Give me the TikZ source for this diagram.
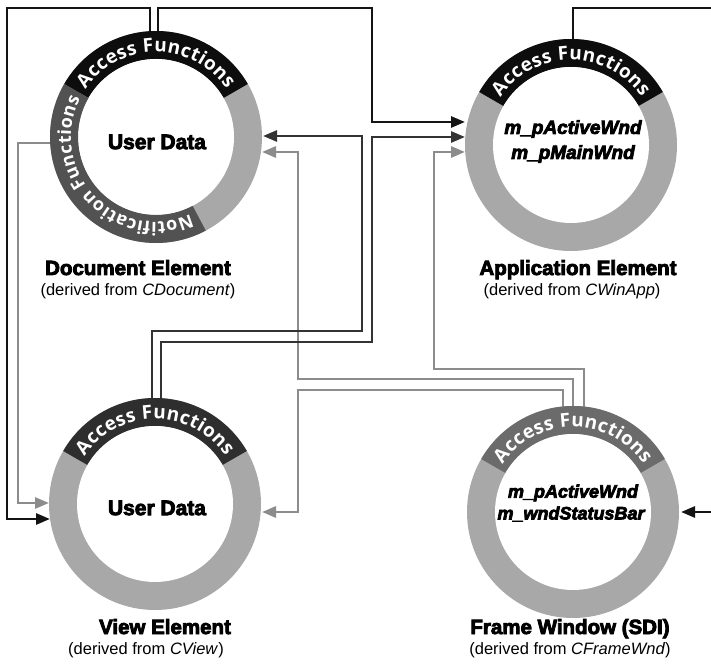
\documentclass[tikz,border=0pt]{standalone}
\usepackage{fontspec}
\setmainfont{Liberation Sans}
\newfontfamily\heavyfont{Liberation Sans Bold}[FakeBold=4]
\newfontfamily\heavyitfont{Liberation Sans Bold Italic}[FakeBold=4]
\newfontfamily\ringfont{Open Sans}
\usetikzlibrary{arrows.meta,decorations.text}

\definecolor{ringgray}{gray}{0.66}
\definecolor{notegray}{gray}{0.32}

\newcommand\accessfont{\ringfont\bfseries\fontsize{19}{19}\selectfont}
\newcommand\notefont{\ringfont\bfseries\fontsize{18}{18}\selectfont}

% ring with an "Access Functions" band across the top
\newcommand\ElementRing[2]{%
  \fill[ringgray] (#1.center) circle[radius=106];
  \fill[#2] ([shift={(150:106)}]#1.center) arc[start angle=150,end angle=30,radius=106]
     -- ([shift={(30:78)}]#1.center) arc[start angle=30,end angle=150,radius=78] -- cycle;
  \fill[white] (#1.center) circle[radius=78];
  \path[decorate,decoration={text along path,text align=fit to path,
        text={|\color{white}\accessfont|Access Functions}}]
     ([shift={(146:85)}]#1.center) arc[start angle=146,end angle=34,radius=85];
}

\begin{document}
\begin{tikzpicture}[x=1pt,y=1pt,
  ringbase/.style={circle,minimum size=212pt,inner sep=0pt},
  conn/.style={line width=2.7pt},
  blackline/.style={conn,draw=black!92},
  darkline/.style={conn,draw=black!80},
  grayline/.style={conn,draw=black!45},
  tip/.style={-{Triangle[length=14pt,width=11pt]}},
  title/.style={font=\heavyfont\fontsize{20.5}{22}\selectfont,anchor=base},
  subtitle/.style={font=\fontsize{16.5}{18}\selectfont,anchor=base},
  innertext/.style={font=\heavyfont\fontsize{21}{22}\selectfont},
  member/.style={font=\heavyitfont\fontsize{19}{20}\selectfont},
  smallmember/.style={font=\heavyitfont\fontsize{18}{19}\selectfont},
]
\useasboundingbox (0,0) rectangle (711,666);
\fill[white] (0,0) rectangle (711,666);

% element rings
\node[ringbase] (doc)   at (156,529) {};
\node[ringbase] (app)   at (571,521) {};
\node[ringbase] (view)  at (155,162) {};
\node[ringbase] (frame) at (573,154) {};

% connector start points (inside the rings)
\coordinate (s1) at (150,529);
\coordinate (s2) at (158,529);
\coordinate (s3) at (573,521);
\coordinate (s4) at (152,162);
\coordinate (s5) at (161,162);
\coordinate (s6) at (100,523);
\coordinate (s7) at (573,154);
\coordinate (s8) at (584,154);
\coordinate (s9) at (563,154);
% corners
\coordinate (k1) at (7,658);
\coordinate (k2) at (372,658);
\coordinate (k3) at (714,658);
\coordinate (k4) at (362,335);
\coordinate (k5) at (372,324);
\coordinate (k6) at (18,163);
\coordinate (k7) at (298,287);
\coordinate (k8) at (434,297);
\coordinate (k9) at (298,276);
\coordinate (k10) at (714,154);
% arrow ends on the ring edges
\coordinate (e1) at (50,147);
\coordinate (e2) at (465,544);
\coordinate (e4) at (263,530);
\coordinate (e5) at (465,529);
\coordinate (e6) at (49,163);
\coordinate (e7) at (262,514);
\coordinate (e8) at (465,514);
\coordinate (e9) at (262,154);
\coordinate (e10) at (681,154);

% connectors
\draw[grayline,tip] (s6) -| (k6) -- (e6);
\draw[grayline,tip] (s7) |- (k7) |- (e7);
\draw[grayline,tip] (s8) |- (k8) |- (e8);
\draw[grayline,tip] (s9) |- (k9) |- (e9);
\draw[blackline,tip] (s1) |- (k1) |- (e1);
\draw[blackline,tip] (s2) |- (k2) |- (e2);
\draw[blackline] (s3) |- (k3);
\draw[blackline,tip] (k10) -- (e10);
\draw[darkline,tip] (s4) |- (k4) |- (e4);
\draw[darkline,tip] (s5) |- (k5) |- (e5);

% rings
\ElementRing{doc}{black!95}
\ElementRing{app}{black!95}
\ElementRing{view}{black!82}
\ElementRing{frame}{black!58}

% notification band of the document ring
\fill[notegray] ([shift={(150:106)}]doc.center) arc[start angle=150,end angle=298,radius=106]
   -- ([shift={(298:78)}]doc.center) arc[start angle=298,end angle=150,radius=78] -- cycle;
\path[decorate,decoration={text along path,text align=fit to path,
      text={|\color{white}\notefont|Notification Functions}}]
   ([shift={(294:85)}]doc.center) arc[start angle=294,end angle=153,radius=85];

% texts inside the rings
\node[innertext] (docU)  at (157,524) {User Data};
\node[innertext] (viewU) at (157,158) {User Data};
\node[member] (appA) at (573,537) {m\_pActiveWnd};
\node[member] (appM) at (573,512) {m\_pMainWnd};
\node[smallmember] (frA) at (573,173) {m\_pActiveWnd};
\node[smallmember] (frS) at (571,152) {m\_wndStatusBar};

% captions
\node[title] (docT) at (138,391) {Document Element};
\node[subtitle] (docS) at (138,370) {(derived from \textit{CDocument})};
\node[title] (appT) at (578,391) {Application Element};
\node[subtitle] (appS) at (572,370) {(derived from \textit{CWinApp})};
\node[title] (viewT) at (165,32) {View Element};
\node[subtitle] (viewS) at (146,12) {(derived from \textit{CView})};
\node[title] (frT) at (570,32) {Frame Window (SDI)};
\node[subtitle] (frS2) at (570,12) {(derived from \textit{CFrameWnd})};
\end{tikzpicture}
\end{document}
